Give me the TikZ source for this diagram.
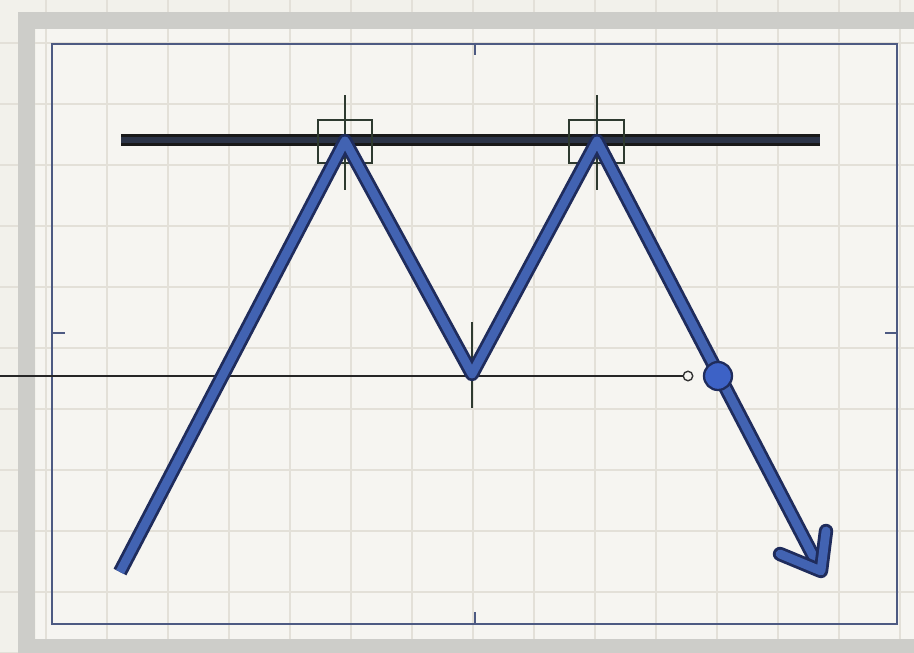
\documentclass[tikz,border=0pt]{standalone}
\usetikzlibrary{arrows.meta}
\definecolor{paper}{HTML}{F2F1EB}
\definecolor{paperlight}{HTML}{F6F5F1}
\definecolor{gridc}{HTML}{E3E0D8}
\definecolor{framegray}{HTML}{CDCDC9}
\definecolor{boxblue}{HTML}{4D5A82}
\definecolor{pricefill}{HTML}{4263B2}
\definecolor{priceedge}{HTML}{1F2C5C}
\definecolor{resist}{HTML}{2C3447}
\definecolor{markc}{HTML}{2E3A30}
\definecolor{dotblue}{HTML}{3D62C6}
\tikzset{
  gridline/.style={gridc,line width=.8pt},
  outerframe/.style={draw=framegray,line width=10.2pt},
  innerbox/.style={draw=boxblue,line width=1.1pt},
  tickmark/.style={boxblue,line width=.9pt},
  resline/.style={draw=black!90,line width=6.4pt,postaction={draw=resist,line width=3.9pt}},
  peakbox/.style={draw=markc,line width=.8pt},
  crossline/.style={markc,line width=.9pt},
  neckline/.style={black!85,line width=1.1pt},
  neckend/.style={circle,draw=black!80,fill=paperlight,line width=.8pt,inner sep=0pt,minimum size=.19cm},
  pricepath/.style={draw=priceedge,line width=8.2pt,line join=round,postaction={draw=pricefill,line width=5pt}},
  pricehead/.style={pricepath,line cap=round},
  breakdot/.style={circle,draw=priceedge,fill=dotblue,line width=1.3pt,inner sep=0pt,minimum size=.56cm}
}

\begin{document}
\begin{tikzpicture}[x=0.02cm,y=-0.02cm]

  % --- fond et quadrillage ---
  \useasboundingbox (0,0) rectangle (914,653);
  \clip (0,0) rectangle (914,653);
  \fill[paper] (0,0) rectangle (914,653);
  \fill[paperlight] (36,29) rectangle (914,640);
  \foreach \gx in {46,107,...,914}
    \draw[gridline] (\gx,0) -- (\gx,653);
  \foreach \gy in {43,104,...,653}
    \draw[gridline] (0,\gy) -- (914,\gy);

  % --- cadres ---
  \draw[outerframe] (26.5,20.5) rectangle (930,648);
  \draw[innerbox] (52,44) rectangle (897,624);
  \draw[tickmark] (475,44) -- (475,55);
  \draw[tickmark] (475,612) -- (475,624);
  \draw[tickmark] (52,333) -- (65,333);
  \draw[tickmark] (885,333) -- (897,333);

  % --- points du motif ---
  \coordinate (start) at (120,572);
  \coordinate (peakA) at (345,141);
  \coordinate (trough) at (472,374);
  \coordinate (peakB) at (597,141);
  \coordinate (tip) at (821,571);
  \coordinate (resL) at (121,140);
  \coordinate (resR) at (820,140);
  \coordinate (neckL) at (0,376);

  % --- resistance ---
  \draw[resline] (resL) -- (resR);

  % --- reperes des sommets et du creux ---
  \draw[peakbox] (318,120) rectangle (372,163);
  \draw[peakbox] (569,120) rectangle (624,163);
  \draw[crossline] (345,95) -- (345,190);
  \draw[crossline] (597,95) -- (597,190);
  \draw[crossline] (472,322) -- (472,408);

  % --- ligne de cou ---
  \node[neckend] (neckR) at (688,376) {};
  \draw[neckline] (neckL) -- (neckR);

  % --- trajet du prix ---
  \draw[pricepath] (start) -- (peakA) -- (trough) -- (peakB) -- (tip);
  \coordinate (headL) at (780,554);
  \coordinate (headR) at (826,531);
  \draw[pricehead] (headL) -- (tip) -- (headR);
  \node[breakdot] (cassure) at (718,376) {};

\end{tikzpicture}
\end{document}
